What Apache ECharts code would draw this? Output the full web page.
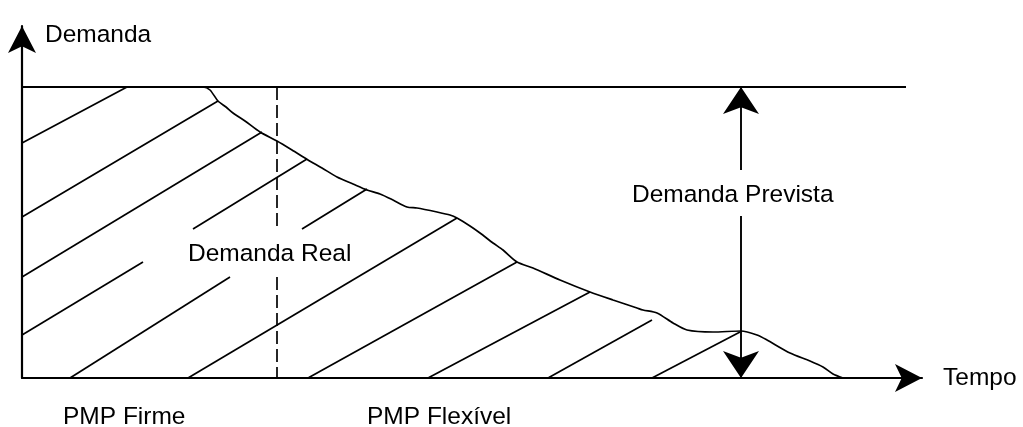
<!DOCTYPE html>
<html>
<head>
<meta charset="utf-8">
<script src="https://cdn.jsdelivr.net/npm/echarts@6/dist/echarts.min.js"></script>
<style>
html,body{margin:0;padding:0;background:#fff;}
#chart{width:1023px;height:427px;}
</style>
</head>
<body>
<div id="chart"></div>
<script>
// Units: time on x, demand on y (arbitrary diagram units)
const forecastLevel = 291;           // "Demanda Prevista" horizontal level
const forecastEnd = 884;             // end of the forecast line on the time axis
const firmLimit = 255;               // boundary PMP Firme / PMP Flexível
const forecastArrowX = 719;          // position of the double arrow

// Real demand curve [time, demand]
const realDemand = [
  [0,291],[181,291],[188,288],[196,277],[204,271],[211,265],[223,257],[238,246],[255,237],
  [270,228],[286,218],[300,210],[315,201],[331,194],[345,188],[358,184],[371,178],[385,171],
  [395,170],[415,166],[428,163],[435,160],[448,152],[458,145],[471,135],[481,128],[495,116],
  [511,110],[538,98],[568,86],[591,78],[615,70],[621,68],[635,65],[651,55],[665,48],[691,46],
  [719,47],[735,43],[745,38],[768,25],[788,17],[801,11],[811,4],[821,0]
];

// Hatch segments [[x1,y1],[x2,y2]]
const hatch = [
  [[0,235],[105,291]],
  [[0,161],[196,277]],
  [[0,101],[240,246]],
  [[0,43],[121,116]],
  [[171,149],[285,219]],
  [[48,0],[208,101]],
  [[280,149],[345,189]],
  [[166,0],[435,160]],
  [[286,0],[495,116]],
  [[406,0],[568,86]],
  [[526,0],[630,58]],
  [[630,0],[718,46]]
];

// Dashed boundary pieces (gap for the "Demanda Real" label)
const boundary = [
  [[firmLimit,291],[firmLimit,150]],
  [[firmLimit,101],[firmLimit,0]]
];

// Double arrow pieces (gap for the "Demanda Prevista" label), arrow at the second point
const forecastArrow = [
  [[forecastArrowX,208],[forecastArrowX,forecastLevel]],
  [[forecastArrowX,162],[forecastArrowX,0]]
];

const labels = {
  yName: 'Demanda',
  xName: 'Tempo',
  real: 'Demanda Real',
  forecast: 'Demanda Prevista',
  firm: 'PMP Firme',
  flex: 'PMP Flexível'
};

const FONT = "'Liberation Sans', Arial, Helvetica, sans-serif";
const FS = 24.5;
const ARROW = [21, 27];

const chart = echarts.init(document.getElementById('chart'), null, {renderer: 'canvas'});

const option = {
  animation: false,
  backgroundColor: '#fff',
  grid: {left: 22, top: 26, right: 101, bottom: 49, containLabel: false},
  xAxis: {
    type: 'value', min: 0, max: 900,
    name: labels.xName, nameLocation: 'end', nameGap: 21,
    nameTextStyle: {fontFamily: FONT, fontSize: FS, color: '#000', align: 'left', verticalAlign: 'middle', padding: [0,0,8,0]},
    axisLine: {show: true, lineStyle: {color: '#000', width: 2.2}, symbol: ['none','arrow'], symbolSize: ARROW},
    axisTick: {show: false}, axisLabel: {show: false}, splitLine: {show: false}
  },
  yAxis: {
    type: 'value', min: 0, max: 352,
    name: labels.yName, nameLocation: 'end', nameGap: -9,
    nameTextStyle: {fontFamily: FONT, fontSize: FS, color: '#000', align: 'left', verticalAlign: 'middle', padding: [0,0,0,23]},
    axisLine: {show: true, lineStyle: {color: '#000', width: 2.2}, symbol: ['none','arrow'], symbolSize: ARROW},
    axisTick: {show: false}, axisLabel: {show: false}, splitLine: {show: false}
  },
  series: [
    {
      type: 'line', name: 'forecast', data: [[0, forecastLevel],[forecastEnd, forecastLevel]],
      symbol: 'none', lineStyle: {color: '#000', width: 1.8, opacity: 1}, silent: true, z: 3
    },
    {
      type: 'line', name: 'real', data: realDemand, smooth: 0.25,
      symbol: 'none', lineStyle: {color: '#000', width: 1.7, opacity: 1}, silent: true, z: 3
    },
    {
      type: 'lines', coordinateSystem: 'cartesian2d', name: 'hatch',
      data: hatch.map(c => ({coords: c})), symbol: 'none',
      lineStyle: {color: '#000', width: 1.7, type: 'solid', curveness: 0, opacity: 1}, silent: true, z: 2
    },
    {
      type: 'lines', coordinateSystem: 'cartesian2d', name: 'boundary',
      data: boundary.map(c => ({coords: c})), symbol: 'none',
      lineStyle: {color: '#000', width: 1.7, type: [13, 5], curveness: 0, opacity: 1}, silent: true, z: 2
    },
    {
      type: 'lines', coordinateSystem: 'cartesian2d', name: 'forecastArrow',
      data: forecastArrow.map(c => ({coords: c})),
      symbol: ['none', 'arrow'], symbolSize: ARROW, symbolOffset: [0, ARROW[1] / 2],
      itemStyle: {color: '#000', opacity: 1},
      lineStyle: {color: '#000', width: 1.9, curveness: 0, opacity: 1}, silent: true, z: 4
    }
  ],
  graphic: [
    {type: 'text', x: 188, y: 242, silent: true, style: {text: labels.real, font: FS + 'px ' + FONT, fill: '#000', verticalAlign: 'top'}},
    {type: 'text', x: 632, y: 183, silent: true, style: {text: labels.forecast, font: FS + 'px ' + FONT, fill: '#000', verticalAlign: 'top'}},
    {type: 'text', x: 63, y: 405, silent: true, style: {text: labels.firm, font: FS + 'px ' + FONT, fill: '#000', verticalAlign: 'top'}},
    {type: 'text', x: 367, y: 405, silent: true, style: {text: labels.flex, font: FS + 'px ' + FONT, fill: '#000', verticalAlign: 'top'}}
  ]
};
chart.setOption(option);
</script>
</body>
</html>
